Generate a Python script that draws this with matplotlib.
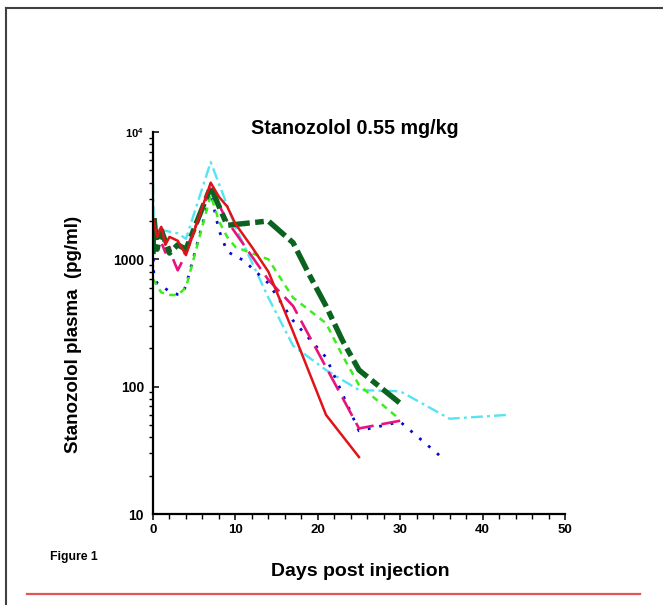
import matplotlib
matplotlib.use("Agg")
import matplotlib.pyplot as plt
from matplotlib.lines import Line2D
from matplotlib.ticker import FixedLocator, FixedFormatter, LogLocator, NullFormatter, MultipleLocator

plt.rcParams['font.family'] = ['Liberation Sans', 'DejaVu Sans']
plt.rcParams['font.weight'] = 'bold'
plt.rcParams['mathtext.fontset'] = 'custom'
plt.rcParams['mathtext.rm'] = 'Liberation Sans'
plt.rcParams['mathtext.bf'] = 'Liberation Sans:bold'

# six horses, plasma stanozolol (pg/ml) against days post injection
days_cyan = [0, 0.1, 1, 3, 4, 7, 10, 14, 17, 21, 25, 30, 36, 43]
conc_cyan = [4000, 1400, 1700, 1600, 1450, 5800, 1800, 500, 210, 135, 94, 92, 56, 60]

days_blue = [0, 0.1, 0.5, 1, 2, 3, 3.5, 4, 7, 8, 9, 11, 14, 17, 21, 25, 30, 35]
conc_blue = [1250, 750, 650, 620, 560, 530, 530, 620, 3300, 1700, 1150, 980, 650, 330, 170, 45, 53, 28]

days_lime = [0, 0.5, 1, 2, 3, 4, 7, 8, 9, 10, 14, 17, 21, 23, 25, 30]
conc_lime = [700, 620, 550, 525, 525, 600, 3200, 2000, 1500, 1250, 1000, 500, 315, 175, 103, 55]

days_pink = [0, 0.5, 1.5, 2, 2.5, 3, 3.5, 4, 7, 9, 14, 17, 25, 30]
conc_pink = [1250, 1650, 1130, 1250, 980, 820, 950, 1180, 3600, 2000, 690, 430, 47, 54]

days_dgreen = [0, 0.1, 0.5, 1, 2, 3, 4, 7, 9, 14, 17, 19, 21, 23, 25, 30]
conc_dgreen = [1100, 2200, 1200, 1700, 1120, 1300, 1200, 3700, 1850, 2000, 1350, 750, 430, 230, 135, 74]

days_red = [0, 0.5, 1, 1.5, 2, 3, 4, 7, 8, 9, 10, 12, 14, 17, 21, 25]
conc_red = [2100, 1500, 1800, 1300, 1500, 1400, 1080, 4000, 3100, 2600, 1900, 1250, 800, 270, 60, 28]


def draw_page_frame(fig):
	# grey border of the page and red rule under the figure
	fig.add_artist(Line2D([6 / 663, 1.0], [1 - 8 / 605, 1 - 8 / 605], color='#404040', lw=1.5))
	fig.add_artist(Line2D([6 / 663, 6 / 663], [0.0, 1 - 8 / 605], color='#404040', lw=1.5))
	fig.add_artist(Line2D([27 / 663, 640 / 663], [1 - 594 / 605, 1 - 594 / 605], color='#E05555', lw=1.6))


def plot_curves(ax):
	ax.plot(days_cyan, conc_cyan, color='#55E4F4', lw=1.7, dashes=(5, 1.8, 1.2, 1.8))
	ax.plot(days_blue, conc_blue, color='#0A0ACC', lw=2.0, dashes=(1, 3.2))
	ax.plot(days_lime, conc_lime, color='#3CEE1E', lw=1.8, dashes=(2.6, 2.2))
	ax.plot(days_pink, conc_pink, color='#E8147C', lw=1.9, dashes=(8, 3))
	ax.plot(days_dgreen, conc_dgreen, color='#0A6420', lw=3.9, dashes=(4, 1, 1.6, 1))
	ax.plot(days_red, conc_red, color='#E01418', lw=1.8)


fig = plt.figure(figsize=(6.63, 6.05), dpi=100)
ax = fig.add_axes([153 / 663, 1 - 514 / 605, 412 / 663, 382 / 605])

plot_curves(ax)

ax.set_yscale('log')
ax.set_xlim(0, 50)
ax.set_ylim(10, 10000)

for side in ['top', 'right']:
	ax.spines[side].set_visible(False)
for side in ['left', 'bottom']:
	ax.spines[side].set_linewidth(1.6)

ax.xaxis.set_major_locator(MultipleLocator(10))
ax.xaxis.set_minor_locator(MultipleLocator(2))
ax.tick_params(axis='x', which='major', direction='out', length=4, width=1.1, pad=3, labelsize=9.5)
ax.tick_params(axis='x', which='minor', direction='out', length=3.5, width=1.0)

ax.yaxis.set_major_locator(FixedLocator([10, 100, 1000, 10000]))
ax.yaxis.set_major_formatter(FixedFormatter(['10', '100', '1000', r'$\mathbf{10^4}$']))
ax.yaxis.set_minor_locator(LogLocator(base=10, subs=range(2, 10)))
ax.yaxis.set_minor_formatter(NullFormatter())
ax.tick_params(axis='y', which='major', direction='in', length=4.5, width=1.1, pad=6.5, labelsize=10)
ax.tick_params(axis='y', which='minor', direction='out', length=3, width=1.0)

for lab in ax.get_xticklabels() + ax.get_yticklabels():
	lab.set_fontweight('bold')
ax.get_yticklabels()[3].set_fontsize(8)

ax.set_xlabel("Days post injection", fontsize=14, fontweight='bold')
ax.xaxis.set_label_coords(0.502, -0.127)
ax.set_ylabel("Stanozolol plasma  (pg/ml)", fontsize=13.5, fontweight='bold')
ax.yaxis.set_label_coords(-0.172, 0.471)

fig.text(355 / 663, 1 - 128 / 605, "Stanozolol 0.55 mg/kg", ha='center', va='center', fontsize=14.2, fontweight='bold')
fig.text(50 / 663, 1 - 557 / 605, "Figure 1", ha='left', va='center', fontsize=8.8, fontweight='bold')

draw_page_frame(fig)

plt.savefig("out.png", dpi=100)
